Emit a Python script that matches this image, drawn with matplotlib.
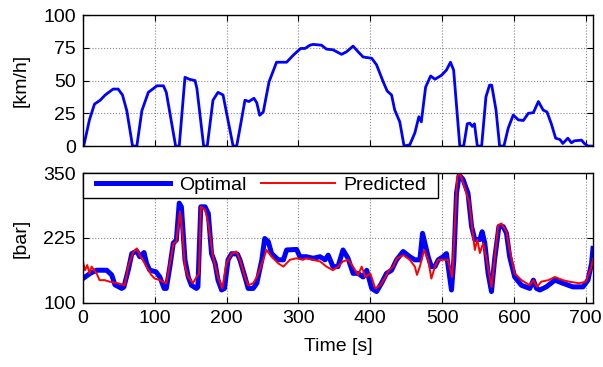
import numpy as np
import matplotlib.pyplot as plt
from matplotlib.patches import Rectangle

plt.rcParams['font.family'] = ['Liberation Sans', 'DejaVu Sans']

# vehicle speed [km/h]
t_speed = [1, 9, 16, 24, 31, 42, 49, 55, 61, 69, 75, 82, 91, 103, 112, 116, 129, 134,
           142, 148, 156, 158.6, 168, 173, 181, 188, 195, 200, 209, 214, 219, 225.5, 231,
           238, 242, 246, 251, 259, 269.5, 276.5, 283.5, 293, 303, 309, 316, 320.5, 332,
           339, 348, 360, 367, 376, 383, 390, 402, 408.7, 418, 423.5, 429.6, 434, 441, 447,
           455, 462, 467.6, 471, 477, 484, 490, 499, 506, 511.6, 516, 524.6, 530, 535,
           538.5, 542, 545, 549, 555, 561, 566, 569, 575, 580, 586, 592, 599, 606, 613,
           620, 627, 634, 640.6, 646, 652, 658, 664, 668, 675, 680, 684, 694, 698, 703, 709]
speed = [0, 20, 32, 35, 39, 43.5, 43.5, 39, 27, 0, 0, 27, 41, 46, 46, 41, 0, 0,
         52.5, 51, 50, 44, 0, 0, 35, 41, 39, 25, 0, 0, 15, 35, 34,
         36.5, 33, 23.5, 26, 49, 64, 64, 64, 69.5, 74.5, 74.5, 77, 77.6, 77,
         74, 73.5, 70, 72, 76.3, 72, 68, 67, 62, 49, 42, 39, 27.5, 18.5, 0,
         1, 10, 22.4, 18.5, 45, 53.5, 51, 54, 58, 64, 58, 0, 0, 17,
         17.5, 15, 17, 0, 0, 37.6, 46.5, 46.5, 27.5, 0, 0, 13.7, 23.7, 20, 19.5,
         25, 25.5, 34, 27.5, 26, 17, 6, 5, 2, 6, 2.5, 4, 4.5, 2, 0, 0]

# brake pressure [bar]
t_opt = [0, 10, 19, 33, 40, 44.5, 54, 57, 63, 68, 75, 79, 85, 88.6, 93, 101.6, 107, 113,
         116, 121, 125.7, 130, 134, 137, 142, 146.6, 151, 158, 160, 164, 170, 174.5, 179,
         184, 188, 193, 197, 202, 207, 215, 218.5, 225.5, 230, 237, 242, 249, 253, 258,
         262.6, 272, 279, 283.5, 297.4, 302, 311, 320.5, 330, 337, 341.4, 348, 355, 362,
         369, 376, 383, 390, 395, 402, 408.7, 415.6, 422.6, 429.6, 436.5, 445.7, 455, 462,
         469, 472.7, 476, 480.5, 485, 490, 494.5, 501.4, 506, 513, 516.3, 520, 523.7, 529,
         536, 541, 545.5, 552.5, 555.7, 559.4, 564, 568.7, 573, 579, 585, 589.6, 594, 601,
         610.5, 622, 627, 631.4, 636, 645, 657, 668, 682, 696, 703, 708, 710]
p_opt = [147, 157, 163, 163, 154, 135, 128, 131, 163, 195, 200, 189, 197, 176, 163, 160, 150, 128,
         128, 170, 215, 221, 292, 285, 183, 150, 134, 128, 131, 285, 285, 272, 195,
         176, 144, 125, 128, 183, 195, 194, 183, 150, 128, 128, 138, 183, 224, 218,
         195, 183, 183, 202, 203, 189, 189, 186, 189, 183, 192, 170, 170, 202,
         186, 157, 157, 150, 163, 128, 122, 138, 157, 163, 183, 199, 189, 183,
         183, 234, 215, 189, 170, 170, 183, 189, 195, 125, 183, 311, 346, 338,
         311, 247, 222, 222, 237, 215, 157, 122, 183, 247, 247, 234, 189, 150,
         134, 128, 144, 128, 125, 131, 144, 138, 131, 131, 144, 176, 205]

t_pred = [0, 3, 6, 9, 12, 19, 23, 30, 37, 49, 58, 63, 70, 75, 79, 88.6, 95, 100, 107, 111,
          116, 122, 126, 130, 135, 138.5, 142, 146.6, 153, 158, 161.5, 164, 170, 174.5, 181,
          188, 194, 199.6, 207, 213.5, 218.5, 225.5, 230, 237, 242, 251, 255.5, 262.6, 272,
          279, 288, 297, 306, 311, 320, 330, 339, 348, 355, 362, 369, 376, 383, 388, 393,
          400, 407, 414, 421, 425.6, 432, 437, 446, 455, 462, 465, 469, 475, 480.5, 485, 490,
          494.5, 501, 508, 514, 517.6, 521, 524.6, 531, 538, 542.6, 545.5, 549, 552.5, 557,
          562, 568.7, 573, 578, 582.6, 589.6, 594, 601, 610.5, 622, 627, 632, 638, 648, 657,
          668, 677, 691, 700, 708, 710]
p_pred = [179, 163, 173, 157, 170, 157, 144, 144, 141, 138, 134, 170, 198, 205, 192, 170, 154, 147, 144, 141,
          138, 183, 215, 218, 276, 234, 170, 150, 138, 150, 157, 285, 279, 253, 189,
          150, 128, 176, 195, 199, 183, 150, 134, 138, 150, 183, 202, 189, 176,
          170, 183, 186, 183, 186, 183, 180, 170, 163, 170, 180, 183, 170, 154, 170, 150,
          157, 128, 134, 150, 163, 170, 186, 192, 183, 170, 154, 170, 202, 183, 147, 170,
          183, 183, 183, 150, 247, 343, 350, 324, 292, 234, 202, 222, 196, 215,
          183, 131, 183, 250, 253, 237, 202, 157, 144, 134, 144, 131, 141, 144, 150,
          144, 141, 138, 141, 170, 185]

fig = plt.figure(figsize=(6.03, 3.67), dpi=100)
ax1 = fig.add_axes([0.1376, 0.602, 0.8458, 0.357])
ax2 = fig.add_axes([0.1376, 0.1744, 0.8458, 0.3542])

fs = 14
for ax in (ax1, ax2):
    ax.set_xlim(0, 710)
    ax.set_xticks(np.arange(0, 701, 100))
    ax.grid(True, linestyle=':', color='#888888', linewidth=0.8)
    ax.tick_params(direction='in', top=True, right=True, labelsize=fs, length=4, pad=5)
    for s in ax.spines.values():
        s.set_linewidth(1.0)

ax1.plot(t_speed, speed, color='#0000ff', linewidth=2.0)
ax1.set_ylim(0, 100)
ax1.set_yticks([0, 25, 50, 75, 100])
ax1.set_xticklabels([])
ax1.set_ylabel('[km/h]', fontsize=fs, labelpad=10)

ax2.plot(t_opt, p_opt, color='#0000ff', linewidth=3.6, label='Optimal')
ax2.plot(t_pred, p_pred, color='#ff0000', linewidth=1.4, label='Predicted')
ax2.set_ylim(100, 350)
ax2.set_yticks([100, 225, 350])
ax2.set_ylabel('[bar]', fontsize=fs, labelpad=10)
ax2.set_xlabel('Time [s]', fontsize=fs, labelpad=8)

# legend frame (MATLAB style box flush with the top-left corner)
ax2.add_patch(Rectangle((0, 0.808), 0.696, 0.192, transform=ax2.transAxes,
                        facecolor='white', edgecolor='black', linewidth=1.0,
                        zorder=4, clip_on=False))
leg = ax2.legend(loc='center left', bbox_to_anchor=(0.026, 0.904), ncol=2, fontsize=fs,
                 frameon=False, borderaxespad=0, borderpad=0, handlelength=3.8,
                 columnspacing=0.75, handletextpad=0.45)
leg.set_zorder(5)

fig.align_ylabels([ax1, ax2])
fig.savefig('out.png', dpi=100)
